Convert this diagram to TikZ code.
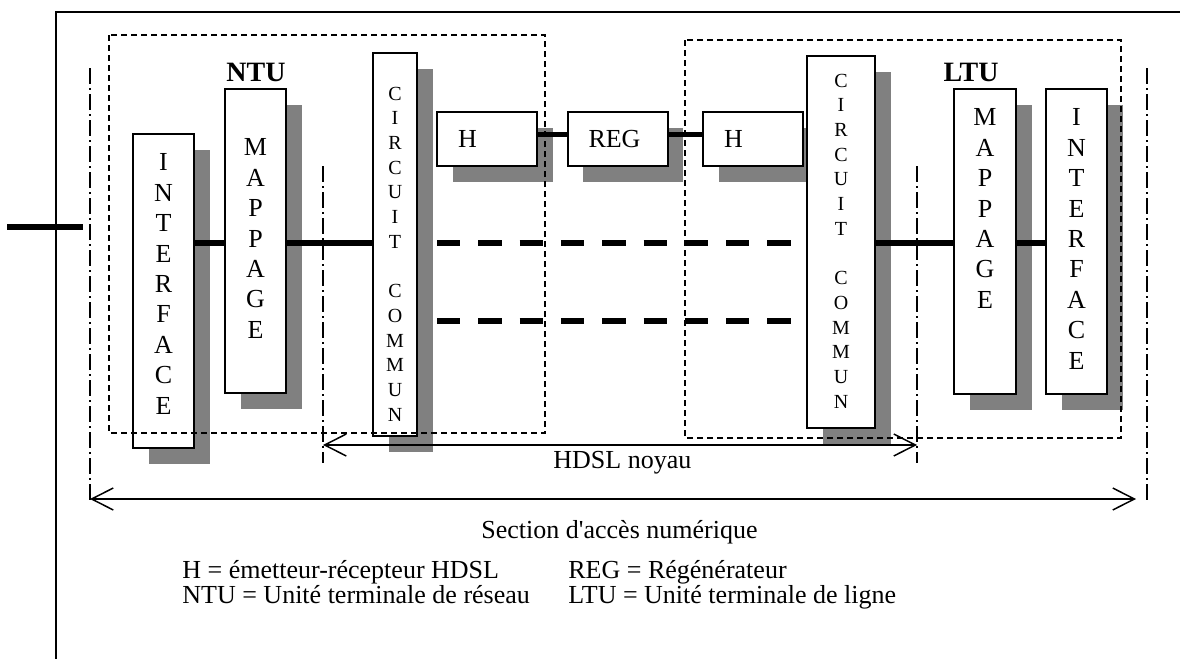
\documentclass[tikz,border=0pt]{standalone}
\usepackage{fontspec}
\setmainfont{Liberation Serif}
\usetikzlibrary{arrows.meta,shadows}

% one unit = one pixel of a 1180 x 659 canvas, y pointing down
\tikzset{
  unitbox/.style={draw, line width=1pt, fill=white, inner sep=0pt,
    drop shadow={shadow xshift=7.75pt, shadow yshift=-7.75pt, fill=black!50, opacity=1}},
  vletters/.style={align=center, inner sep=0pt, anchor=north,
    font=\fontsize{13}{15.2}\selectfont},
  cletters/.style={align=center, inner sep=0pt, anchor=north,
    font=\fontsize{10}{12.35}\selectfont},
  hbox/.style={unitbox, minimum height=27pt, text width=29pt, inner xsep=10.5pt,
    align=left, font=\fontsize{13}{15}\selectfont},
  link/.style={line width=2.8pt},
  dlink/.style={line width=2.6pt, dash pattern=on 11.65pt off 9pt},
  zone/.style={line width=0.75pt, dash pattern=on 3pt off 2pt},
  limit/.style={line width=0.75pt, dash pattern=on 8pt off 2pt on 1pt off 2pt},
  span/.style={line width=0.75pt,
    {Straight Barb[length=10.8pt,width=11pt]}-{Straight Barb[length=10.8pt,width=11pt]}},
  frame/.style={line width=0.8pt},
  title/.style={font=\fontsize{14}{16}\selectfont\bfseries, inner sep=0pt},
  legend/.style={font=\fontsize{13}{15}\selectfont, inner sep=0pt, anchor=base west},
}

\begin{document}
\begin{tikzpicture}[x=0.5pt, y=-0.5pt]
\useasboundingbox (0,0) rectangle (1180,659);
\fill[white] (0,0) rectangle (1180,659);

% outer frame
\draw[frame] (56,659) -- (56,12) -- (1180,12);

% functional blocks
\node[unitbox, minimum width=30.5pt, minimum height=157pt]   (ifn) at (163.5,291) {};
\node[unitbox, minimum width=30.5pt, minimum height=152pt]   (mpn) at (255.5,241) {};
\node[unitbox, minimum width=22pt,   minimum height=191.5pt] (ccn) at (395,244.5) {};
\node[hbox] (hl)  at (487,139)   {H};
\node[hbox] (reg) at (617.5,139) {REG};
\node[hbox] (hr)  at (753,139)   {H};
\node[unitbox, minimum width=34pt,   minimum height=186pt]   (ccl) at (841,242) {};
\node[unitbox, minimum width=31pt,   minimum height=152.5pt] (mpl) at (985,241.5) {};
\node[unitbox, minimum width=30.5pt, minimum height=152.5pt] (ifl) at (1076.5,241.5) {};

% block captions, written letter by letter
\node[vletters] (ifn-t) at (163.5,153.5) {I\\N\\T\\E\\R\\F\\A\\C\\E};
\node[vletters] (mpn-t) at (255.5,138.5) {M\\A\\P\\P\\A\\G\\E};
\node[cletters] (ccn-t) at (395,86.5) {C\\I\\R\\C\\U\\I\\T\\[12.35pt]C\\O\\M\\M\\U\\N};
\node[cletters] (ccl-t) at (841,73.5) {C\\I\\R\\C\\U\\I\\T\\[12.35pt]C\\O\\M\\M\\U\\N};
\node[vletters] (mpl-t) at (985,108.5) {M\\A\\P\\P\\A\\G\\E};
\node[vletters] (ifl-t) at (1076.5,108.5) {I\\N\\T\\E\\R\\F\\A\\C\\E};

\node[title] (ntu) at (256,72.5) {NTU};
\node[title] (ltu) at (971,72.5) {LTU};

% data paths
\coordinate (bus) at (0,243);
\coordinate (stubA) at (7,227);
\coordinate (stubB) at (83,227);
\draw[link] (stubA) -- (stubB);
\draw[link] (ifn.east |- bus) -- (mpn.west |- bus);
\draw[link] (mpn.east |- bus) -- (ccn.west |- bus);
\draw[link] (ccl.east |- bus) -- (mpl.west |- bus);
\draw[link] (mpl.east |- bus) -- (ifl.west |- bus);
\draw[link] ([yshift=2.25pt]hl.east) -- ([yshift=2.25pt]reg.west);
\draw[link] ([yshift=2.25pt]reg.east) -- ([yshift=2.25pt]hr.west);

\coordinate (pa1) at (437,243);
\coordinate (pb1) at (793,243);
\coordinate (pa2) at (437,321);
\coordinate (pb2) at (793,321);
\draw[dlink] (pa1) -- (pb1);
\draw[dlink] (pa2) -- (pb2);

% NTU and LTU groupings
\draw[zone] (109,35) rectangle (545,433);
\draw[zone] (685,40) rectangle (1121,438);

% section limits
\coordinate (lo1) at (90,68);    \coordinate (lo2) at (90,502);
\coordinate (li1) at (323,166);  \coordinate (li2) at (323,463);
\coordinate (ri1) at (917,166);  \coordinate (ri2) at (917,463);
\coordinate (ro1) at (1147,68);  \coordinate (ro2) at (1147,502);
\draw[limit] (lo1) -- (lo2);
\draw[limit] (li1) -- (li2);
\draw[limit] (ri1) -- (ri2);
\draw[limit] (ro1) -- (ro2);

\coordinate (coreL) at (323,445);
\coordinate (coreR) at (917,445);
\coordinate (accL) at (90,499);
\coordinate (accR) at (1136,499);
\draw[span] (coreL) -- (coreR);
\draw[span] (accL) -- (accR);

% captions and legend
\node[legend] (core-t) at (553,468) {HDSL noyau};
\node[legend] (acc-t)  at (481,538) {Section d\textquotesingle accès numérique};
\node[legend] (lg1) at (182,578) {H = émetteur-récepteur HDSL};
\node[legend] (lg2) at (568,578) {REG = Régénérateur};
\node[legend] (lg3) at (182,603) {NTU = Unité terminale de réseau};
\node[legend] (lg4) at (568,603) {LTU = Unité terminale de ligne};
\end{tikzpicture}
\end{document}
